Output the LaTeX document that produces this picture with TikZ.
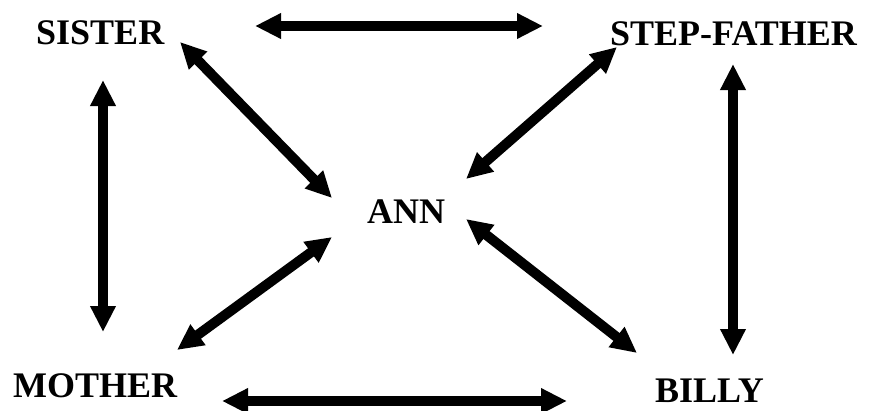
\documentclass[tikz,border=0pt]{standalone}
\usepackage{fontspec}
\setmainfont{Liberation Serif}
\usetikzlibrary{arrows.meta}
\begin{document}
\begin{tikzpicture}[x=1pt,y=-1pt,
  lbl/.style={font=\fontsize{36}{40}\selectfont\bfseries, inner sep=0pt, anchor=base west},
  rel/.style={line width=10pt, {Triangle[width=24pt,length=26pt]}-{Triangle[width=24pt,length=26pt]}}]
\useasboundingbox (0,0) rectangle (872,410);
\node[lbl] (sister) at (36,44) {SISTER};
\node[lbl] (step) at (610,45) {STEP-FATHER};
\node[lbl] (ann) at (367,223) {ANN};
\node[lbl] (mother) at (13,397) {MOTHER};
\node[lbl] (billy) at (655,402) {BILLY};
% arrow end points
\coordinate (t1) at (255,26);  \coordinate (t2) at (543,26);
\coordinate (b1) at (222,401); \coordinate (b2) at (567,401);
\coordinate (l1) at (103,80);  \coordinate (l2) at (103,332);
\coordinate (r1) at (733,64);  \coordinate (r2) at (733,355);
\coordinate (sa1) at (180,42); \coordinate (sa2) at (332,198);
\coordinate (fa1) at (617,47); \coordinate (fa2) at (466,179);
\coordinate (ma1) at (332,237); \coordinate (ma2) at (177,350);
\coordinate (ba1) at (466,219); \coordinate (ba2) at (637,353);
\draw[rel] (t1) -- (t2);
\draw[rel] (b1) -- (b2);
\draw[rel] (l1) -- (l2);
\draw[rel] (r1) -- (r2);
\draw[rel] (sa1) -- (sa2);
\draw[rel] (fa1) -- (fa2);
\draw[rel] (ma1) -- (ma2);
\draw[rel] (ba1) -- (ba2);
\end{tikzpicture}
\end{document}
